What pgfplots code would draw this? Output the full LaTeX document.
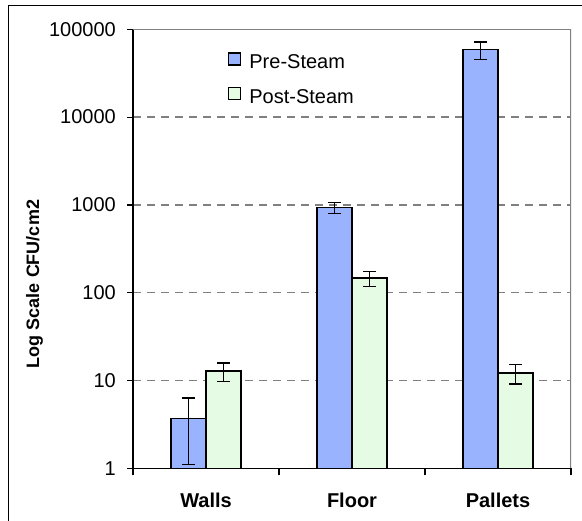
\documentclass[border=0pt]{standalone}
\usepackage{pgfplots}
\pgfplotsset{compat=1.18}
\usepackage{fontspec}
\setmainfont{Liberation Sans}

\definecolor{preblue}{RGB}{153,179,255}
\definecolor{postgreen}{RGB}{230,251,228}
\definecolor{gridgray}{RGB}{128,128,128}

\pgfplotsset{
  boxlegend/.style={
    legend image code/.code={\draw[##1,draw=black,line width=1.2bp] (0bp,-1bp) rectangle (12bp,11bp);}
  }
}

\begin{document}
\begin{tikzpicture}
\clip (0bp,0bp) rectangle (582bp,-521bp);
\draw[line width=1.2bp] (8.5bp,-5.5bp) rectangle (620bp,-560bp);
\begin{axis}[
  at={(133bp,-468.3bp)}, anchor=south west,
  scale only axis, width=438bp, height=439bp,
  ymode=log, ymin=1, ymax=100000,
  xmin=-0.5, xmax=2.5,
  ybar=0pt, bar width=35bp,
  axis x line*=bottom, axis y line*=left,
  axis line style={line width=1.2bp, black},
  xtick={0,1,2}, xticklabels={Walls,Floor,Pallets},
  major x tick style={draw=none},
  minor xtick={-0.5,0.5,1.5,2.5},
  minor tick length=7bp, major tick length=6bp,
  tick align=outside,
  tick style={black, line width=1.2bp},
  ytick={1,10,100,1000,10000,100000},
  yticklabels={1,10,100,1000,10000,100000},
  yminorticks=false,
  ymajorgrids,
  grid style={gridgray, dash pattern=on 8bp off 6bp, line width=1.3bp},
  yticklabel style={font=\fontsize{20bp}{24bp}\selectfont, inner sep=0pt, xshift=-11bp},
  xticklabel style={font=\bfseries\fontsize{20bp}{24bp}\selectfont, inner sep=0pt, yshift=-19bp},
  ylabel={Log Scale CFU/cm2},
  ylabel style={font=\bfseries\fontsize{18bp}{22bp}\selectfont, at={(axis description cs:-0.225,0.228)}, anchor=west, inner sep=0pt, rotate=0},
  legend style={at={(axis description cs:0.2169,0.948)}, anchor=north west, draw=none, fill=none,
    inner sep=0pt, row sep=14bp, font=\fontsize{20bp}{24bp}\selectfont,
    nodes={inner sep=0pt, text height=14bp, text depth=4bp},
    /tikz/every odd column/.append style={column sep=8bp}},
  legend cell align=left,
  error bars/y dir=both, error bars/y explicit,
  error bars/error bar style={black, line width=1.3bp},
  error bars/error mark options={rotate=90, mark size=6.5bp, line width=1.3bp, black},
]
\addplot[boxlegend, fill=preblue, draw=black, line width=1.2bp]
  coordinates {(0,3.7) +- (0,2.6) (1,930) +- (0,128) (2,58500) +- (0,13000)};
\addlegendentry{Pre-Steam}
\addplot[boxlegend, fill=postgreen, draw=black, line width=1.2bp]
  coordinates {(0,12.8) +- (0,3.0) (1,147) +- (0,29) (2,12.2) +- (0,3.1)};
\addlegendentry{Post-Steam}
\draw[gridgray, line width=1.3bp] (rel axis cs:0,1) -- (rel axis cs:1,1) -- (rel axis cs:1,0);
\end{axis}
\end{tikzpicture}
\end{document}
